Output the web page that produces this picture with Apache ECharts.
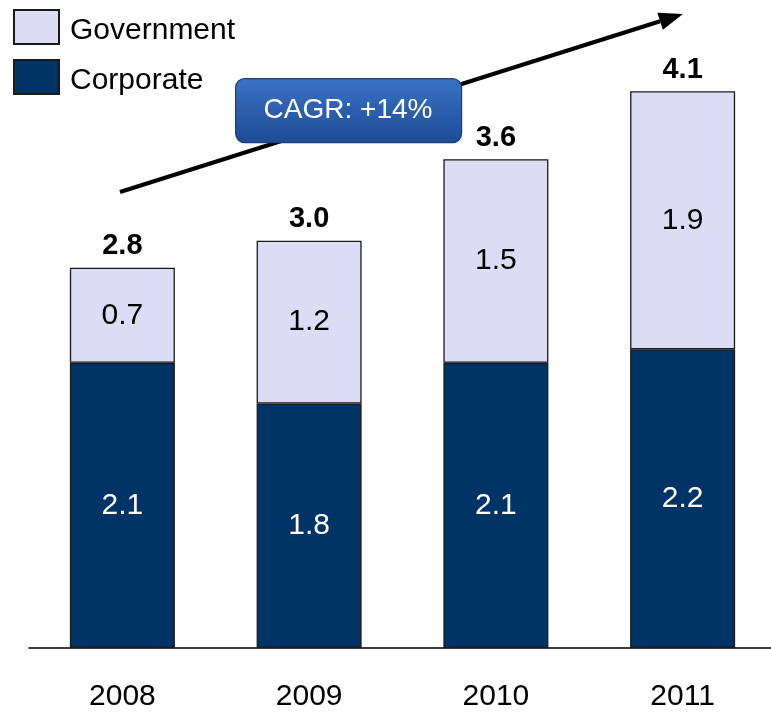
<!DOCTYPE html>
<html>
<head>
<meta charset="utf-8">
<script src="https://cdn.jsdelivr.net/npm/echarts@6/dist/echarts.min.js"></script>
<style>html,body{margin:0;padding:0;background:#fff;overflow:hidden;}#main{width:776px;height:712px;}</style>
</head>
<body>
<div id="main"></div>
<script>
var years = ['2008', '2009', '2010', '2011'];
var corporate = [2.1, 1.8, 2.1, 2.2];
var government = [0.7, 1.2, 1.5, 1.9];
var totals = [2.8, 3.0, 3.6, 4.1];
var cagrText = 'CAGR: +14%';

var FONT = 'Liberation Sans, Arial, sans-serif';
var chart = echarts.init(document.getElementById('main'));

// arrow geometry (annotation)
var T = [683, 14], S = [120, 192];
var dx = T[0] - S[0], dy = T[1] - S[1], L = Math.sqrt(dx * dx + dy * dy);
var ux = dx / L, uy = dy / L, nx = -uy, ny = ux;
var hl = 24, hw = 9;
var B = [T[0] - hl * ux, T[1] - hl * uy];

chart.setOption({
  animation: false,
  backgroundColor: '#ffffff',
  textStyle: { fontFamily: FONT },
  grid: { left: 29, right: 0, top: 37, bottom: 60, containLabel: false },
  legend: {
    orient: 'vertical', left: 13, top: 8, padding: 0,
    itemWidth: 45, itemHeight: 34, itemGap: 12,
    icon: 'rect',
    data: ['Government', 'Corporate'],
    formatter: '{a|{name}}',
    textStyle: { fontSize: 30, color: '#000', fontFamily: FONT,
      rich: { a: { fontSize: 30, color: '#000', fontFamily: FONT, lineHeight: 30, padding: [8, 0, 0, 6] } } }
  },
  xAxis: {
    type: 'category', data: years,
    axisLine: { show: true, lineStyle: { color: '#000', width: 1.5 } },
    axisTick: { show: false },
    axisLabel: { fontSize: 30, color: '#000', margin: 34, fontFamily: FONT }
  },
  yAxis: {
    type: 'value', min: 0, max: 4.5, show: false,
    splitLine: { show: false }
  },
  series: [
    {
      name: 'Corporate', type: 'bar', stack: 't', data: corporate, barWidth: 105,
      itemStyle: { color: '#003366', borderColor: '#1a1a1a', borderWidth: 1.3 },
      label: { show: true, position: 'inside', color: '#fff', fontSize: 30, fontFamily: FONT,
        formatter: function (p) { return p.value.toFixed(1); } }
    },
    {
      name: 'Government', type: 'bar', stack: 't', data: government, barWidth: 105,
      itemStyle: { color: '#DCDCF5', borderColor: '#1a1a1a', borderWidth: 1.3 },
      label: { show: true, position: 'inside', color: '#000', fontSize: 30, fontFamily: FONT,
        formatter: function (p) { return p.value.toFixed(1); } }
    },
    {
      name: 'Total', type: 'scatter', data: totals, symbolSize: 2,
      itemStyle: { color: 'rgba(0,0,0,0)', opacity: 1 }, silent: true, z: 5,
      label: { show: true, position: 'top', distance: 6, color: '#000', fontSize: 29, fontWeight: 'bold', fontFamily: FONT,
        formatter: function (p) { return p.value.toFixed(1); } }
    }
  ],
  graphic: [
    { type: 'line', shape: { x1: S[0], y1: S[1], x2: B[0], y2: B[1] }, style: { stroke: '#000', lineWidth: 4 }, z: 10 },
    { type: 'polygon', shape: { points: [T, [B[0] + hw * nx, B[1] + hw * ny], [B[0] - hw * nx, B[1] - hw * ny]] }, style: { fill: '#000' }, z: 10 },
    { type: 'rect', left: 235, top: 78, z: 100, shape: { width: 226, height: 64, r: 9 },
      style: { fill: new echarts.graphic.LinearGradient(0, 0, 0, 1, [{ offset: 0, color: '#3a73c6' }, { offset: 1, color: '#1d4b94' }]),
        stroke: '#1a3f7a', lineWidth: 1.2 } },
    { type: 'text', x: 348, y: 110, z: 101, style: { text: cagrText, fill: '#fff', font: '28px ' + FONT, align: 'center', verticalAlign: 'middle' } }
  ]
});
</script>
</body>
</html>
